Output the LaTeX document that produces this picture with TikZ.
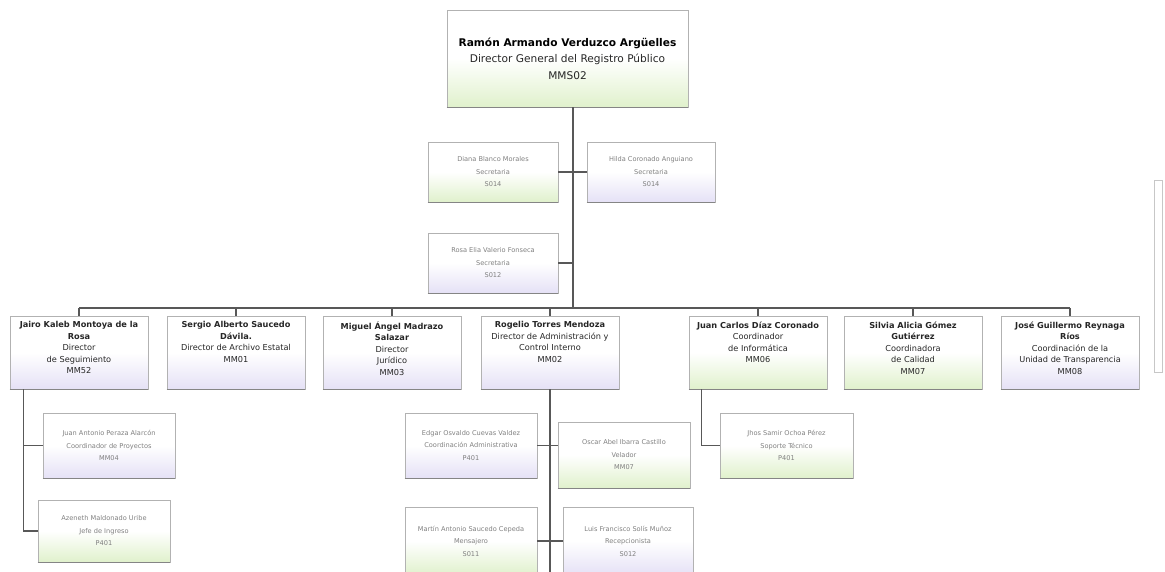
\documentclass[tikz,border=0pt]{standalone}
\usepackage{fontspec}
\setmainfont{DejaVu Sans}
\usetikzlibrary{positioning}

\definecolor{mint}{RGB}{224,241,204}
\definecolor{lilac}{RGB}{229,225,246}
\definecolor{wirecol}{RGB}{88,88,88}

\tikzset{
  orgbox/.style={draw=black!30, line width=0.7pt, top color=white,
    bottom color=#1, middle color=white, inner sep=0pt, align=center},
  headbox/.style={orgbox=#1, minimum width=241pt, minimum height=97pt,
    font=\fontsize{10.6}{16.5}\selectfont, text=black!85},
  dirbox/.style={orgbox=#1, minimum width=138pt, minimum height=73pt,
    font=\fontsize{8.2}{11.5}\selectfont, text=black!85},
  staffbox/.style={orgbox=#1, minimum width=132pt, minimum height=65pt,
    font=\fontsize{6.6}{12.5}\selectfont, text=black!50},
  wire/.style={draw=wirecol, line width=1.4pt},
  shadowline/.style={draw=black!48, line width=1.6pt}
}

% top aligned text of a director card
\newcommand{\dirtext}[1]{\begin{minipage}[t][62pt][t]{137pt}\centering #1\end{minipage}}

\begin{document}
\begin{tikzpicture}[x=1pt, y=-1pt]
    \useasboundingbox (0,0) rectangle (1165,571);
    \clip (0,0) rectangle (1165,571);

    % Director general and secretaries
    % ---------------------
    \node[headbox=mint] (ramon) at (567.5,58.5)
      {\textbf{\color{black}Ramón Armando Verduzco Argüelles}\\Director General del Registro Público\\MMS02};
    \node[staffbox=mint, minimum width=130pt, minimum height=60pt] (diana) at (493,172)
      {Diana Blanco Morales\\Secretaria\\S014};
    \node[staffbox=lilac, minimum width=128pt, minimum height=60pt] (hilda) at (651,172)
      {Hilda Coronado Anguiano\\Secretaria\\S014};
    \node[staffbox=lilac, minimum width=130pt, minimum height=60pt] (rosa) at (493,263)
      {Rosa Elia Valerio Fonseca\\Secretaria\\S012};

    % Directors
    % ---------------------
    \node[dirbox=lilac] (jairo) at (79,352.5)
      {\dirtext{\textbf{Jairo Kaleb Montoya de la}\\\textbf{Rosa}\\Director\\de Seguimiento\\MM52}};
    \node[dirbox=lilac] (sergio) at (236,352.5)
      {\dirtext{\textbf{Sergio Alberto Saucedo}\\\textbf{Dávila.}\\Director de Archivo Estatal\\MM01}};
    \node[dirbox=lilac] (miguel) at (392,352.5)
      {\dirtext{\textbf{Miguel Ángel Madrazo}\\\textbf{Salazar}\\Director\\Jurídico\\MM03}};
    \node[dirbox=lilac] (rogelio) at (550,352.5)
      {\dirtext{\textbf{Rogelio Torres Mendoza}\\Director de Administración y\\Control Interno\\MM02}};
    \node[dirbox=mint] (juanc) at (758,352.5)
      {\dirtext{\textbf{Juan Carlos Díaz Coronado}\\Coordinador\\de Informática\\MM06}};
    \node[dirbox=mint] (silvia) at (913,352.5)
      {\dirtext{\textbf{Silvia Alicia Gómez}\\\textbf{Gutiérrez}\\Coordinadora\\de Calidad\\MM07}};
    \node[dirbox=lilac] (jose) at (1070,352.5)
      {\dirtext{\textbf{José Guillermo Reynaga}\\\textbf{Ríos}\\Coordinación de la\\Unidad de Transparencia\\MM08}};

    % Staff below the directors
    % ---------------------
    \node[staffbox=lilac] (juanan) at (109,445.5)
      {Juan Antonio Peraza Alarcón\\Coordinador de Proyectos\\MM04};
    \node[staffbox=mint, minimum height=62pt] (azeneth) at (104,531)
      {Azeneth Maldonado Uribe\\Jefe de Ingreso\\P401};
    \node[staffbox=lilac] (edgar) at (471,445.5)
      {Edgar Osvaldo Cuevas Valdez\\Coordinación Administrativa\\P401};
    \node[staffbox=mint, minimum height=66pt] (oscar) at (624,455)
      {Oscar Abel Ibarra Castillo\\Velador\\MM07};
    \node[staffbox=mint, minimum width=133pt] (jhos) at (786.5,445.5)
      {Jhos Samir Ochoa Pérez\\Soporte Técnico\\P401};
    \node[staffbox=mint, minimum height=68pt] (martin) at (471,541)
      {Martín Antonio Saucedo Cepeda\\Mensajero\\S011};
    \node[staffbox=lilac, minimum width=130pt, minimum height=68pt] (luis) at (628,541)
      {Luis Francisco Solís Muñoz\\Recepcionista\\S012};

    % darker bottom edge of every card
    \foreach \b in {ramon,diana,hilda,rosa,jairo,sergio,miguel,rogelio,juanc,silvia,jose,
                    juanan,azeneth,edgar,oscar,jhos,martin,luis}
      \draw[shadowline] (\b.south west) -- (\b.south east);

    % Connectors
    % ---------------------
    \coordinate (bus) at (573,308);
    \coordinate (jtap) at ([xshift=14pt]jairo.south west);
    \coordinate (jctap) at ([xshift=13pt]juanc.south west);
    \coordinate (rogend) at (550,580);
    \draw[wire] (ramon.south -| bus) -- (bus);
    \draw[wire] (diana.east) -- (hilda.west);
    \draw[wire] (rosa.east) -- (rosa.east -| bus);
    \draw[wire] (jairo.north |- bus) -- (jose.north |- bus);
    \foreach \d in {jairo,sergio,miguel,rogelio,juanc,silvia,jose}
      \draw[wire] (\d.north |- bus) -- (\d.north);
    \draw[wire] (jtap) |- (azeneth.west);
    \draw[wire] (jtap |- juanan.west) -- (juanan.west);
    \draw[wire] (jctap) |- (jhos.west);
    \draw[wire] (rogelio.south) -- (rogend);
    \draw[wire] (edgar.east) -- (oscar.west |- edgar.east);
    \draw[wire] (martin.east) -- (luis.west |- martin.east);

    % scroll bar
    \draw[black!22, line width=0.6pt] (1154,180) rectangle (1162,372);
\end{tikzpicture}
\end{document}
